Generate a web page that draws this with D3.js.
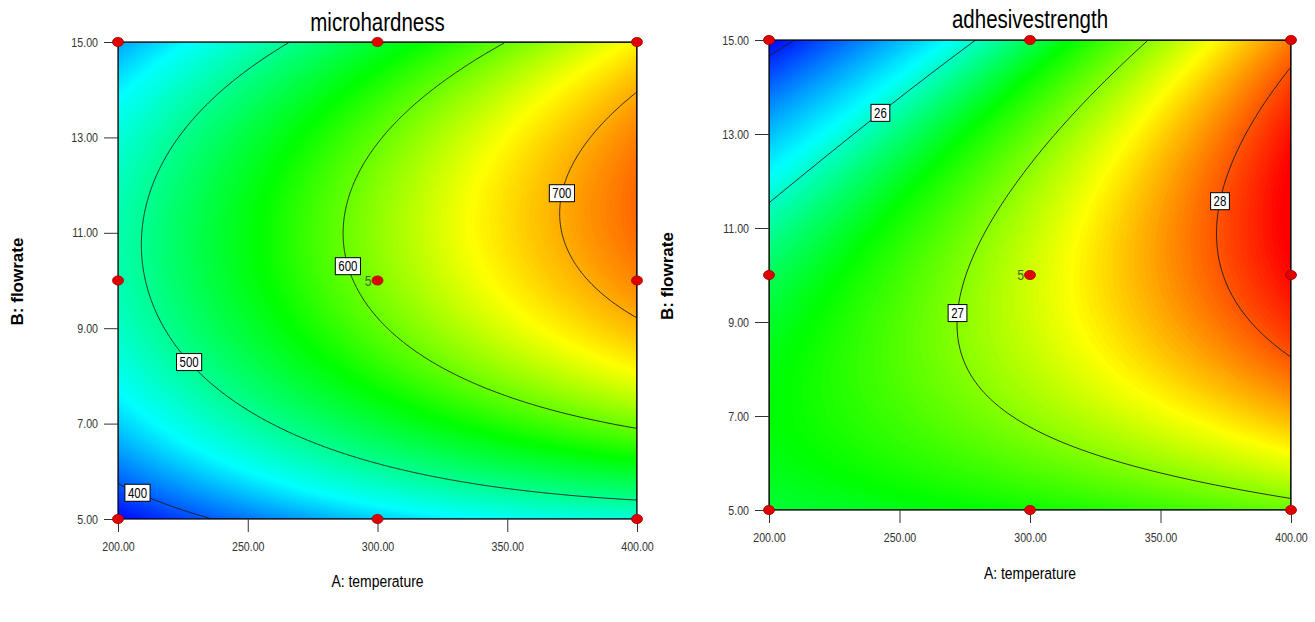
<!DOCTYPE html>
<html>
<head>
<meta charset="utf-8">
<script src="https://cdn.jsdelivr.net/npm/d3@7"></script>
<style>
body { margin: 0; background: #fff; }
text { font-family: "Liberation Sans", Arial, sans-serif; }
</style>
</head>
<body>
<div id="chart"></div>
<script>
// design levels of the two factors (coded -1, 0, +1)
var temperature = [200, 300, 400];
var flowrate = [5, 10, 15];

// predicted response at the design points, rows = flowrate 5, 10, 15, cols = temperature
var microhardness = [[372, 438, 469], [486, 611, 719], [424, 540, 663]];
var adhesive = [[26.40, 26.59, 26.89], [26.30, 27.24, 28.28], [24.86, 26.31, 27.86]];

// contour levels and the flowrate where each label box sits
var hardLevels = [400, 500, 600, 700];
var hardLabelAt = [5.55, 8.29, 10.3, 11.83];
var adhLevels = [25, 26, 27, 28];
var adhLabelAt = [null, 13.45, 9.19, 11.57];

var xTicks = [200, 250, 300, 350, 400];
var yTicks = [5, 7, 9, 11, 13, 15];
var centerRuns = 5;

// colour ramp stops (blue, cyan, green, yellow, red)
var hardStops = [370, 455, 560, 660, 785];
var adhStops = [24.86, 25.85, 26.55, 27.4, 28.3];
var rainbow = ["#0000ff", "#00ffff", "#00ff00", "#ffff00", "#ff0000"];

var W = 1315, H = 622;
var NARROW = 0.82;   // the original uses a condensed face

var svg = d3.select("#chart")
  .append("svg")
  .attr("width", W)
  .attr("height", H)
  .style("display", "block");

svg.append("rect").attr("width", W).attr("height", H).attr("fill", "#fff");

// squeeze text horizontally, keeping its anchor point
function squeeze(sel, k) {
  sel.each(function() {
    var t = d3.select(this);
    var x0 = +t.attr("x") || 0, y0 = +t.attr("y") || 0;
    t.attr("x", null).attr("y", null)
      .attr("transform", "translate(" + x0 + "," + y0 + ") scale(" + k + ",1)");
  });
}

// quadratic surface through the 3x3 design points
function surface(grid) {
  var aMid = temperature[1], aHalf = temperature[2] - temperature[1];
  var bMid = flowrate[1], bHalf = flowrate[2] - flowrate[1];
  function basis(t) { return [t * (t - 1) / 2, 1 - t * t, t * (t + 1) / 2]; }
  return function(a, b) {
    var lu = basis((a - aMid) / aHalf), lv = basis((b - bMid) / bHalf);
    var s = 0;
    for (var j = 0; j < 3; j++)
      for (var i = 0; i < 3; i++) s += grid[j][i] * lu[i] * lv[j];
    return s;
  };
}

function drawPanel(p, grid, levels, labelAt, stops) {
  var g = svg.append("g");
  var x = d3.scaleLinear().domain([temperature[0], temperature[2]]).range([p.left, p.right]);
  var y = d3.scaleLinear().domain([flowrate[0], flowrate[2]]).range([p.bottom, p.top]);
  var f = surface(grid);

  var nx = Math.round((p.right - p.left) / 2), ny = Math.round((p.bottom - p.top) / 2);
  var gx = d3.scaleLinear().domain([0, nx]).range([p.left, p.right]);
  var gy = d3.scaleLinear().domain([0, ny]).range([p.top, p.bottom]);
  var values = new Array(nx * ny);
  for (var j = 0; j < ny; j++)
    for (var i = 0; i < nx; i++)
      values[j * nx + i] = f(x.invert(gx(i + 0.5)), y.invert(gy(j + 0.5)));

  var path = d3.geoPath(d3.geoTransform({
    point: function(px, py) { this.stream.point(gx(px), gy(py)); }
  }));
  var color = d3.scaleLinear().domain(stops).range(rainbow).clamp(true);

  var clipId = "clip" + p.id;
  g.append("clipPath").attr("id", clipId)
    .append("rect")
    .attr("x", p.left).attr("y", p.top)
    .attr("width", p.right - p.left).attr("height", p.bottom - p.top);

  var plot = g.append("g").attr("clip-path", "url(#" + clipId + ")");

  // colour fill as many thin bands
  var lo = d3.min(values), hi = d3.max(values), n = 160, step = (hi - lo) / n;
  var bands = d3.range(n).map(function(k) { return lo + k * step; });
  plot.selectAll(".band")
    .data(d3.contours().size([nx, ny]).thresholds(bands)(values))
    .enter().append("path")
    .attr("class", "band")
    .attr("d", path)
    .attr("fill", function(d) { return color(d.value + step / 2); })
    .attr("stroke", function(d) { return color(d.value + step / 2); })
    .attr("stroke-width", 0.6);

  // contour lines
  plot.selectAll(".iso")
    .data(d3.contours().size([nx, ny]).thresholds(levels)(values))
    .enter().append("path")
    .attr("class", "iso")
    .attr("d", path)
    .attr("fill", "none")
    .attr("stroke", "#1e1e1e")
    .attr("stroke-width", 0.9);

  // frame
  g.append("rect")
    .attr("x", p.left).attr("y", p.top)
    .attr("width", p.right - p.left).attr("height", p.bottom - p.top)
    .attr("fill", "none").attr("stroke", "#000").attr("stroke-width", 1.2);

  // axes
  var ya = g.append("g")
    .attr("transform", "translate(" + p.left + ",0)")
    .call(d3.axisLeft(y).tickValues(yTicks).tickFormat(d3.format(".2f")).tickSize(14).tickPadding(6));
  var xa = g.append("g")
    .attr("transform", "translate(0," + p.bottom + ")")
    .call(d3.axisBottom(x).tickValues(xTicks).tickFormat(d3.format(".2f")).tickSize(13).tickPadding(10));
  [ya, xa].forEach(function(a) {
    a.select(".domain").remove();
    a.selectAll(".tick line").attr("stroke", "#333");
    a.selectAll(".tick text")
      .attr("fill", "#333")
      .style("font-family", "'Liberation Sans', Arial, sans-serif")
      .style("font-size", "13px")
      .call(squeeze, NARROW);
  });

  // label boxes sitting on the contour lines
  levels.forEach(function(L, k) {
    var b = labelAt[k];
    if (b == null) return;
    var a0 = temperature[0], a1 = temperature[2];
    for (var it = 0; it < 40; it++) {
      var am = (a0 + a1) / 2;
      if (f(am, b) < L) a0 = am; else a1 = am;
    }
    var cx = x((a0 + a1) / 2), cy = y(b);
    var lab = g.append("g").attr("transform", "translate(" + cx + "," + cy + ")");
    var box = lab.append("rect").attr("fill", "#fff").attr("stroke", "#000").attr("stroke-width", 1);
    var t = lab.append("text")
      .attr("text-anchor", "middle")
      .attr("dy", "0.36em")
      .style("font-size", "14px")
      .attr("fill", "#000")
      .text(L);
    var tw = t.node().getComputedTextLength() * NARROW + 6;
    t.call(squeeze, NARROW);
    box.attr("x", -tw / 2).attr("y", -8.5).attr("width", tw).attr("height", 17);
  });

  // design points
  var pts = [];
  flowrate.forEach(function(b) { temperature.forEach(function(a) { pts.push([a, b]); }); });
  g.selectAll(".pt")
    .data(pts)
    .enter().append("ellipse")
    .attr("class", "pt")
    .attr("cx", function(d) { return x(d[0]); })
    .attr("cy", function(d) { return y(d[1]); })
    .attr("rx", 5.5).attr("ry", 4.6)
    .attr("fill", "#e00000")
    .attr("stroke", "#a00000")
    .attr("stroke-width", 0.8);

  g.append("text")
    .attr("x", x(temperature[1]) - 6)
    .attr("y", y(flowrate[1]) + 5)
    .attr("text-anchor", "end")
    .style("font-size", "15px")
    .attr("fill", "#3d6a2c")
    .text(centerRuns)
    .call(squeeze, NARROW);

  // titles
  g.append("text")
    .attr("x", (p.left + p.right) / 2)
    .attr("y", p.titleY)
    .attr("text-anchor", "middle")
    .style("font-size", "25px")
    .attr("fill", "#000")
    .text(p.title)
    .call(squeeze, NARROW);

  g.append("text")
    .attr("x", (p.left + p.right) / 2)
    .attr("y", p.xlabY)
    .attr("text-anchor", "middle")
    .style("font-size", "17px")
    .attr("fill", "#000")
    .text("A: temperature")
    .call(squeeze, NARROW);

  g.append("text")
    .attr("transform", "translate(" + p.ylabX + "," + ((p.top + p.bottom) / 2 + 1) + ") rotate(-90)")
    .attr("text-anchor", "middle")
    .attr("dy", "0.35em")
    .style("font-weight", "bold")
    .style("font-size", "17px")
    .attr("fill", "#000")
    .text("B: flowrate");
}

drawPanel({id: 1, left: 118, right: 637, top: 42, bottom: 519, title: "microhardness", titleY: 31, xlabY: 587, ylabX: 17},
  microhardness, hardLevels, hardLabelAt, hardStops);
drawPanel({id: 2, left: 769, right: 1291, top: 40, bottom: 510, title: "adhesivestrength", titleY: 28, xlabY: 579, ylabX: 667},
  adhesive, adhLevels, adhLabelAt, adhStops);
</script>
</body>
</html>
